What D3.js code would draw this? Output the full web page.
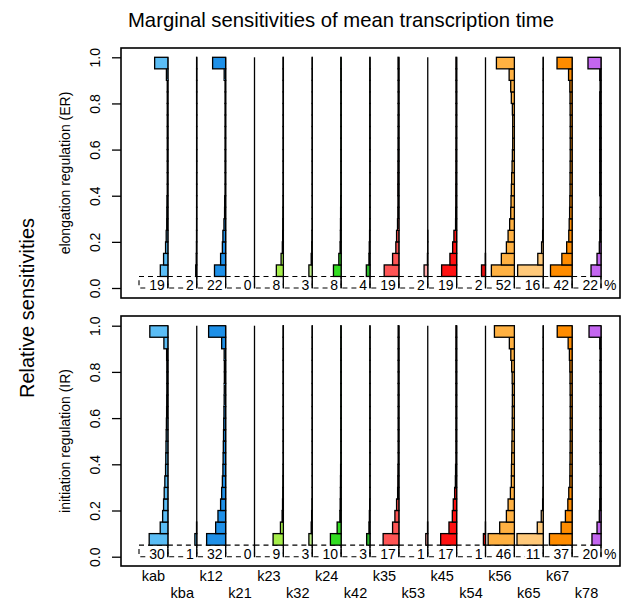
<!DOCTYPE html>
<html>
<head>
<meta charset="utf-8">
<script src="https://cdn.jsdelivr.net/npm/d3@7"></script>
<style>
  body { margin: 0; background: #fff; }
  text { font-family: "Liberation Sans", Arial, Helvetica, sans-serif; fill: #000; }
</style>
</head>
<body>
<div id="chart"></div>
<script>
// ---- data ----
const params = ["kab","kba","k12","k21","k23","k32","k24","k42","k35","k53","k45","k54","k56","k65","k67","k78"];

// % of samples with sensitivity > 0.05 (printed under each column)
const erPct = [19, 2, 22, 0, 8, 3, 8, 4, 19, 2, 19, 2, 52, 16, 42, 22];
const irPct = [30, 1, 32, 0, 9, 3, 10, 3, 17, 1, 17, 1, 46, 11, 37, 20];

// lower edge of each histogram bin above 0.05 (bin width 0.05)
const binLo = [0.05,0.10,0.15,0.20,0.25,0.30,0.35,0.40,0.45,0.50,0.55,0.60,0.65,0.70,0.75,0.80,0.85,0.90,0.95];

// % of samples per bin, elongation regulation
const erBins = [
  [3.6,2.05,1.1,0.8,0.55,0.5,0.45,0.3,0.3,0.3,0.3,0.3,0.3,0.3,0.3,0.3,0.3,0.7,6.3],
  [0.5,0.25,0.15,0.1,0.08,0.07,0.07,0.07,0.07,0.06,0.06,0.06,0.06,0.06,0.06,0.07,0.07,0.07,0.07],
  [5.3,2.4,1.55,1.3,0.8,0.5,0.45,0.28,0.28,0.28,0.28,0.28,0.28,0.28,0.28,0.28,0.28,0.7,6.2],
  [0,0,0,0,0,0,0,0,0,0,0,0,0,0,0,0,0,0,0],
  [3.35,1.1,0.5,0.35,0.3,0.25,0.2,0.17,0.17,0.16,0.16,0.16,0.16,0.16,0.16,0.16,0.16,0.17,0.17],
  [1.6,0.5,0.25,0.15,0.04,0.04,0.03,0.03,0.03,0.03,0.03,0.03,0.03,0.03,0.03,0.03,0.03,0.03,0.04],
  [3.65,1.1,0.5,0.35,0.3,0.25,0.2,0.14,0.14,0.14,0.13,0.13,0.13,0.13,0.13,0.13,0.14,0.14,0.15],
  [1.75,0.5,0.35,0.2,0.1,0.08,0.08,0.08,0.08,0.08,0.08,0.08,0.08,0.08,0.08,0.08,0.08,0.08,0.08],
  [7.0,3.0,1.45,1.1,0.65,0.5,0.45,0.5,0.48,0.45,0.42,0.4,0.38,0.38,0.36,0.36,0.36,0.36,0.4],
  [1.75,0.15,0.05,0.05,0,0,0,0,0,0,0,0,0,0,0,0,0,0,0],
  [7.15,3.2,1.9,1.3,0.5,0.45,0.4,0.4,0.38,0.36,0.35,0.34,0.33,0.32,0.32,0.32,0.32,0.33,0.34],
  [1.9,0.1,0,0,0,0,0,0,0,0,0,0,0,0,0,0,0,0,0],
  [10.95,6.2,3.8,3.0,2.25,1.75,1.6,1.45,1.3,1.1,0.95,0.8,0.8,0.8,0.95,1.45,1.75,2.5,8.55],
  [12.2,2.6,0.8,0.3,0.15,0.02,0.02,0.02,0.02,0.02,0.02,0.02,0.02,0.02,0.02,0.02,0.02,0.02,0.02],
  [10.3,4.9,2.6,1.6,1.4,1.2,1.1,1.0,1.0,0.95,0.9,0.9,0.9,0.9,0.95,1.0,1.1,1.7,7.2],
  [4.75,1.9,0.8,0.6,0.5,0.45,0.4,0.6,0.6,0.6,0.6,0.6,0.6,0.6,0.6,0.6,0.45,0.6,6.2]
];

// % of samples per bin, initiation regulation
const irBins = [
  [8.9,3.65,2.5,2.05,1.75,1.45,1.1,1.0,0.9,0.8,0.7,0.6,0.55,0.5,0.5,0.5,0.6,1.9,8.6],
  [0.9,0.1,0,0,0,0,0,0,0,0,0,0,0,0,0,0,0,0,0],
  [9.05,4.75,3.65,2.4,1.9,1.55,1.3,1.2,1.1,1.0,0.9,0.8,0.7,0.65,0.6,0.6,0.7,1.9,8.1],
  [0,0,0,0,0,0,0,0,0,0,0,0,0,0,0,0,0,0,0],
  [4.9,1.4,0.6,0.4,0.3,0.25,0.2,0.15,0.15,0.15,0.15,0.15,0.15,0.15,0.15,0.15,0.15,0.15,0.15],
  [1.6,0.5,0.3,0.15,0.03,0.03,0.03,0.03,0.03,0.03,0.03,0.03,0.03,0.03,0.03,0.03,0.03,0.03,0.03],
  [5.1,1.9,0.6,0.45,0.35,0.3,0.25,0.15,0.15,0.15,0.15,0.15,0.15,0.15,0.15,0.15,0.15,0.15,0.15],
  [1.6,0.5,0.3,0.15,0.04,0.04,0.04,0.04,0.04,0.04,0.04,0.04,0.04,0.04,0.04,0.04,0.04,0.04,0.04],
  [7.5,3.0,1.9,1.1,0.6,0.5,0.45,0.35,0.35,0.35,0.35,0.35,0.35,0.35,0.35,0.35,0.35,0.35,0.35],
  [0.95,0.1,0,0,0,0,0,0,0,0,0,0,0,0,0,0,0,0,0],
  [7.6,3.65,2.05,1.6,0.95,0.6,0.5,0.35,0.35,0.35,0.35,0.35,0.35,0.35,0.35,0.35,0.35,0.35,0.35],
  [1.0,0.05,0,0,0,0,0,0,0,0,0,0,0,0,0,0,0,0,0],
  [12.5,7.0,3.8,3.0,1.9,1.45,1.4,1.3,1.2,1.1,1.0,1.0,0.95,0.95,1.05,1.3,1.7,2.4,9.5],
  [12.5,2.85,0.95,0.3,0.15,0.02,0.02,0.02,0.02,0.02,0.02,0.02,0.02,0.02,0.02,0.02,0.02,0.02,0.02],
  [10.8,5.25,3.2,2.05,1.6,1.1,1.05,1.0,0.95,0.9,0.9,0.9,0.9,0.95,1.0,1.1,1.3,1.9,7.1],
  [4.3,1.9,0.8,0.6,0.5,0.45,0.4,0.5,0.5,0.5,0.5,0.5,0.5,0.5,0.5,0.5,0.45,0.6,5.7]
];

const yTicks = [0, 0.2, 0.4, 0.6, 0.8, 1.0];

// ---- styles ----
const colors = ["#5bbdf5","#5bbdf5","#1e90e8","#1e90e8","#a6ee4a","#bff08a","#33dd22","#2db82d",
                "#ff5555","#ffaaaa","#ff1111","#e81010","#ffb142","#ffc97a","#ff8c00","#c466f0"];

const W = 623, H = 602;
const boxL = 121, boxR = 620;

const panels = [
  { label: "elongation regulation (ER)", pct: erPct, bins: erBins, top: 48, bottom: 298, y0: 288, y1: 57.3 },
  { label: "initiation regulation (IR)", pct: irPct, bins: irBins, top: 316, bottom: 566, y0: 556.7, y1: 325.7 }
];

const svg = d3.select("#chart").append("svg")
              .attr("width", W)
              .attr("height", H);

const x = d3.scaleBand().domain(params).range([139, 601]).padding(0);
const bw = x.bandwidth();
const len = d3.scaleLinear().domain([0, 100]).range([0, 210]); // % -> bar length
const right = k => x(k) + bw;

svg.append("text")
   .attr("x", 341).attr("y", 27)
   .attr("text-anchor", "middle")
   .style("font-size", "20.3px")
   .text("Marginal sensitivities of mean transcription time");

svg.append("text")
   .attr("transform", "translate(34,308) rotate(-90)")
   .attr("text-anchor", "middle")
   .style("font-size", "20px")
   .text("Relative sensitivities");

panels.forEach(p => {
    const y = d3.scaleLinear().domain([0, 1]).range([p.y0, p.y1]);
    const g = svg.append("g");

    // y axis
    const ax = g.append("g")
                .attr("transform", `translate(${boxL},0)`)
                .call(d3.axisLeft(y).tickValues(yTicks).tickFormat(d3.format(".1f")).tickSize(9));
    ax.attr("font-family", null).attr("font-size", null);
    ax.select(".domain").remove();
    ax.selectAll(".tick line").attr("stroke", "#000").attr("stroke-width", 1.3);
    ax.selectAll(".tick text")
      .attr("transform", "rotate(-90)")
      .attr("x", 0).attr("y", -21).attr("dy", 0)
      .attr("text-anchor", "middle")
      .style("font-size", "14px");

    g.append("text")
     .attr("transform", `translate(70,${(p.top + p.bottom) / 2}) rotate(-90)`)
     .attr("text-anchor", "middle")
     .style("font-size", "14px")
     .text(p.label);

    // dashed bottom bin (0 - 0.05), clipped to the column
    g.selectAll(".low")
     .data(params)
     .enter()
     .append("rect")
     .attr("class", "low")
     .attr("x", (k, i) => right(k) - Math.min(len(100 - p.pct[i]), bw))
     .attr("y", y(0.05))
     .attr("width", (k, i) => Math.min(len(100 - p.pct[i]), bw))
     .attr("height", y(0) - y(0.05))
     .attr("fill", "none")
     .attr("stroke", "#000")
     .attr("stroke-width", 1.1)
     .attr("stroke-dasharray", "5,4");

    // percentage labels with white backing
    const labels = g.selectAll(".pct")
                    .data(params)
                    .enter()
                    .append("g")
                    .attr("class", "pct");
    labels.append("text")
          .attr("x", k => right(k) - 3)
          .attr("y", y(0) + 2)
          .attr("text-anchor", "end")
          .style("font-size", "14px")
          .text((k, i) => p.pct[i]);
    labels.each(function() {
        const t = d3.select(this).select("text");
        const b = t.node().getBBox();
        d3.select(this).insert("rect", "text")
          .attr("x", b.x - 1).attr("y", b.y + 2)
          .attr("width", b.width + 2).attr("height", b.height - 4)
          .attr("fill", "#fff");
    });

    g.append("text")
     .attr("x", right(params[params.length - 1]) + 3)
     .attr("y", y(0) + 2)
     .style("font-size", "14px")
     .text("%");

    // baselines
    g.selectAll(".base")
     .data(params)
     .enter()
     .append("line")
     .attr("class", "base")
     .attr("x1", right).attr("x2", right)
     .attr("y1", y(0)).attr("y2", y(1))
     .attr("stroke", "#000")
     .attr("stroke-width", 1.3);

    // histogram bars, growing leftwards from each baseline
    const cols = g.selectAll(".col")
                  .data(params)
                  .enter()
                  .append("g")
                  .attr("class", "col");
    cols.each(function(k, i) {
        const bars = p.bins[i].map((v, j) => ({ v: v, lo: binLo[j] })).filter(d => d.v > 0);
        d3.select(this).selectAll("rect")
          .data(bars)
          .enter()
          .append("rect")
          .attr("x", d => right(k) - len(d.v))
          .attr("y", d => y(d.lo + 0.05))
          .attr("width", d => len(d.v))
          .attr("height", d => y(d.lo) - y(d.lo + 0.05))
          .attr("fill", colors[i])
          .attr("stroke", "#000")
          .attr("stroke-width", 1.3);
    });

    // frame
    g.append("rect")
     .attr("x", boxL).attr("y", p.top)
     .attr("width", boxR - boxL).attr("height", p.bottom - p.top)
     .attr("fill", "none")
     .attr("stroke", "#000")
     .attr("stroke-width", 1.6);
});

// x labels in two staggered rows
svg.selectAll(".xlab")
   .data(params)
   .enter()
   .append("text")
   .attr("class", "xlab")
   .attr("x", k => x(k) + bw / 2)
   .attr("y", (k, i) => i % 2 === 0 ? 581 : 598)
   .attr("text-anchor", "middle")
   .style("font-size", "14.5px")
   .text(k => k);
</script>
</body>
</html>
